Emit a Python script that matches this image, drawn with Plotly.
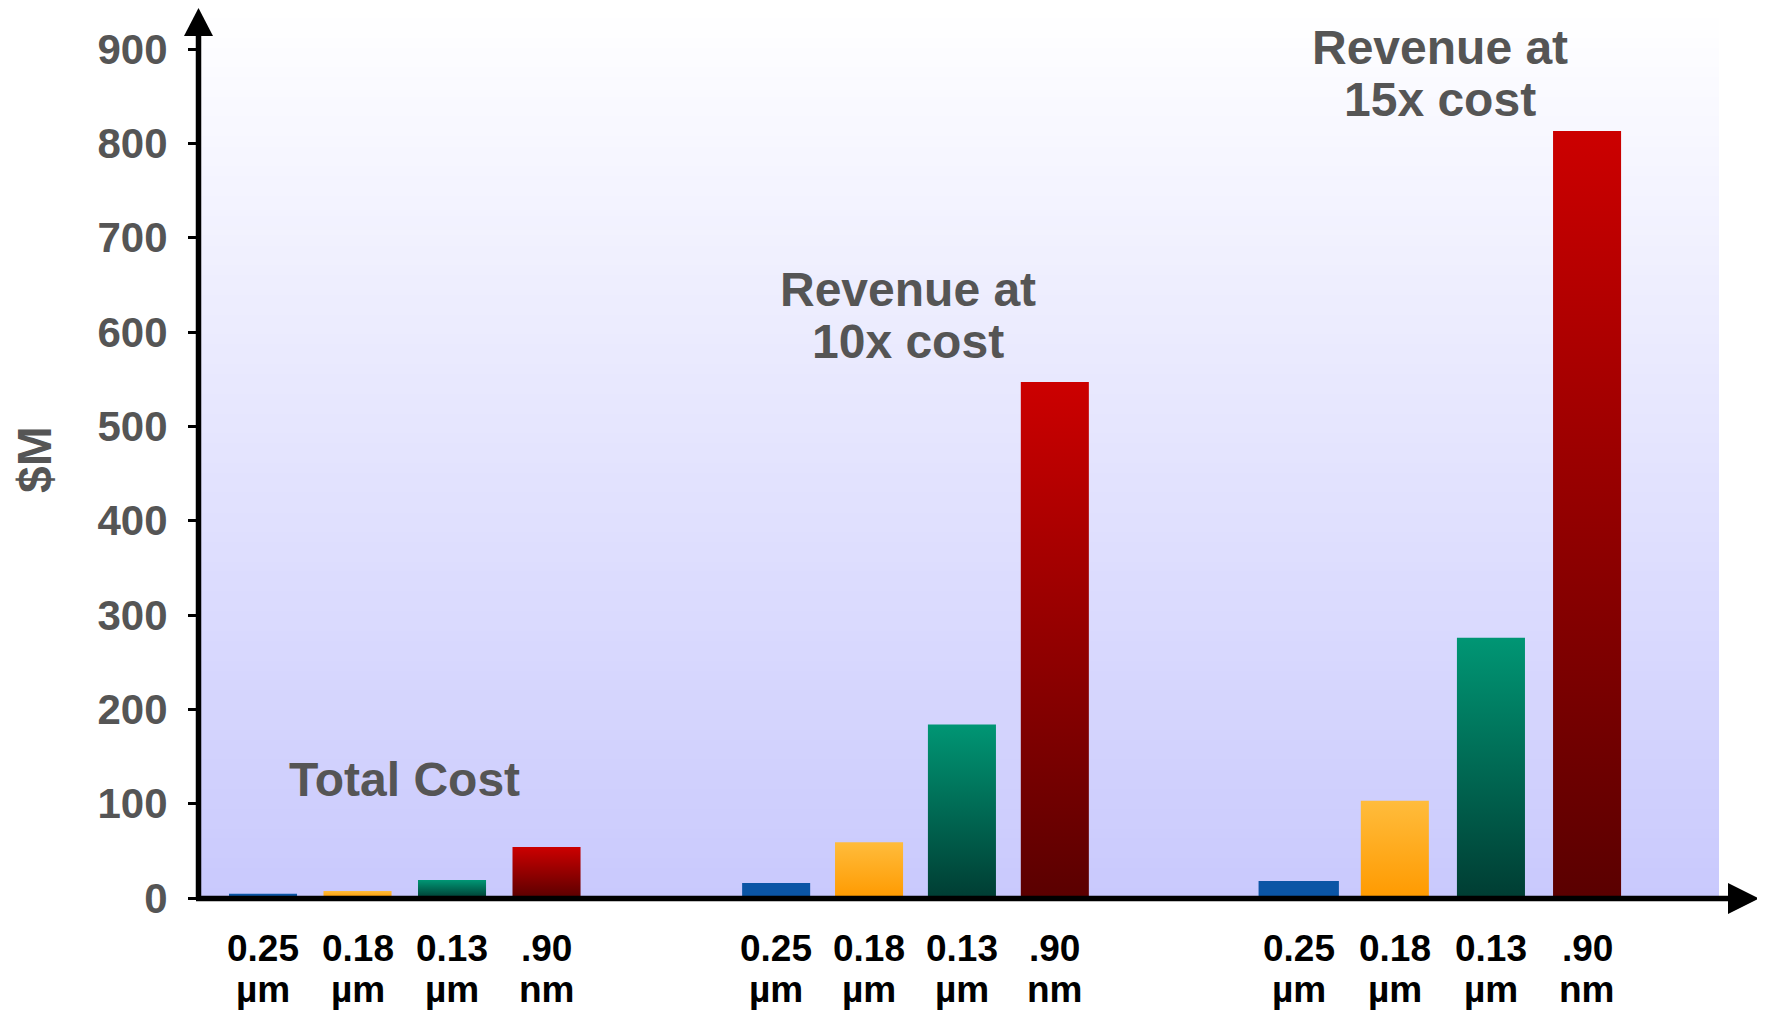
import plotly.graph_objects as go

# ---------------- data ----------------
tick_line1 = ["0.25", "0.18", "0.13", ".90"]
tick_line2 = ["µm", "µm", "µm", "nm"]
group_title_lines = [["Total Cost"], ["Revenue at", "10x cost"], ["Revenue at", "15x cost"]]
total_cost = [4.5, 7.5, 19, 54]
revenue_10x = [16, 59, 184, 547]
revenue_15x = [18, 103, 276, 813]
y_tick_values = [0, 100, 200, 300, 400, 500, 600, 700, 800, 900]
y_title = "$M"

series_groups = [total_cost, revenue_10x, revenue_15x]

# ---------------- layout constants ----------------
OFF = 8                                      # browser body margin
W, H = 1765 - OFF, 1012 - OFF
# plot area in screen pixels (screen = figure + OFF)
S_L, S_R, S_T, S_B = 198, 1719, 8, 898
PX_PER_UNIT = 0.9433
SLOT = 94.5                                  # px per x unit
X0 = -0.688
X1 = X0 + (S_R - S_L) / SLOT
YMAX = (S_B - S_T) / PX_PER_UNIT
group_start = [0.0, 5.43, 10.96]
group_pitch = [1.0, 0.983, 1.017]
bar_width = [[0.72] * 4, [0.72] * 4, [0.85, 0.72, 0.72, 0.72]]
title_dx = [0.0, -0.075, -0.03]
title_y = [126, 645, 902]
title_step = 55

# bottom / top colors per size
bar_colors = [("#0b55a5", "#0b55a5"), ("#ff9a00", "#ffbc3c"),
              ("#003d33", "#009674"), ("#5a0000", "#cc0000")]
GRAY = "#555555"
FONT = "Liberation Sans, Arial, sans-serif"


def fx(px):
    return (px - S_L) / (S_R - S_L)


def fy(py):
    return (S_B - py) / (S_B - S_T)


fig = go.Figure()

# bars as filled polygons with vertical gradient
for g, vals in enumerate(series_groups):
    for j, v in enumerate(vals):
        xc = group_start[g] + j * group_pitch[g]
        hw = bar_width[g][j] / 2
        bot, top = bar_colors[j]
        fig.add_trace(go.Scatter(
            x=[xc - hw, xc + hw, xc + hw, xc - hw, xc - hw],
            y=[0, 0, v, v, 0],
            mode="lines", line=dict(width=0),
            fill="toself",
            fillgradient=dict(type="vertical", start=0, stop=v,
                              colorscale=[[0, bot], [1, top]]),
            hoverinfo="skip", showlegend=False,
        ))

shapes = []
# background gradient (white at top -> lavender at bottom)
N = 90
c_top = (255, 255, 255)
c_bot = (201, 201, 253)
for i in range(N):
    t = (i + 0.5) / N
    col = tuple(round(c_bot[k] + (c_top[k] - c_bot[k]) * t) for k in range(3))
    shapes.append(dict(type="rect", xref="paper", yref="paper",
                       x0=0, x1=1, y0=i / N, y1=(i + 1) / N + 0.002,
                       fillcolor="rgb(%d,%d,%d)" % col, line=dict(width=0),
                       layer="below"))

# axis lines and arrows
shapes.append(dict(type="line", xref="paper", yref="paper",
                   x0=fx(198.5), x1=fx(198.5), y0=fy(900), y1=fy(34),
                   line=dict(color="black", width=5.5), layer="above"))
shapes.append(dict(type="line", xref="paper", yref="paper",
                   x0=fx(196), x1=fx(1729), y0=fy(898.5), y1=fy(898.5),
                   line=dict(color="black", width=5.5), layer="above"))
shapes.append(dict(type="path", xref="paper", yref="paper",
                   path="M %f %f L %f %f L %f %f Z" % (fx(184), fy(36), fx(213), fy(36), fx(198.5), fy(8)),
                   fillcolor="black", line=dict(width=0), layer="above"))
shapes.append(dict(type="path", xref="paper", yref="paper",
                   path="M %f %f L %f %f L %f %f Z" % (fx(1728), fy(883), fx(1728), fy(914), fx(1759), fy(898.5)),
                   fillcolor="black", line=dict(width=0), layer="above"))

annotations = []
# category labels (two lines each)
for g in range(3):
    for j in range(4):
        xc = group_start[g] + j * group_pitch[g]
        for text, py in ((tick_line1[j], 948.5), (tick_line2[j], 989)):
            annotations.append(dict(x=xc, y=fy(py), xref="x", yref="paper",
                                    text=text, showarrow=False,
                                    xanchor="center", yanchor="middle",
                                    font=dict(family=FONT, size=37, color="black", weight="bold")))

# group titles
for g, lines in enumerate(group_title_lines):
    xc = group_start[g] + 1.5 * group_pitch[g] + title_dx[g]
    for k, line in enumerate(lines):
        annotations.append(dict(x=xc, y=title_y[g] - k * title_step, xref="x", yref="y",
                                text=line, showarrow=False,
                                xanchor="center", yanchor="middle",
                                font=dict(family=FONT, size=48, color=GRAY, weight="bold")))

# y axis title
annotations.append(dict(x=fx(34), y=fy(460), xref="paper", yref="paper",
                        text=y_title, textangle=-90, showarrow=False,
                        xanchor="center", yanchor="middle",
                        font=dict(family=FONT, size=48, color=GRAY, weight="bold")))

fig.update_layout(
    width=W, height=H,
    margin=dict(l=S_L - OFF, r=W - (S_R - OFF), t=S_T - OFF, b=H - (S_B - OFF), pad=0),
    paper_bgcolor="white", plot_bgcolor="rgba(0,0,0,0)",
    showlegend=False,
    shapes=shapes, annotations=annotations,
    xaxis=dict(range=[X0, X1], showgrid=False, zeroline=False, showline=False,
               showticklabels=False, ticks=""),
    yaxis=dict(range=[0, YMAX], showgrid=False, zeroline=False, showline=False,
               tickmode="array", tickvals=y_tick_values,
               ticks="outside", ticklen=9, tickwidth=3, tickcolor="black",
               ticklabelstandoff=12,
               tickfont=dict(family=FONT, size=42, color=GRAY, weight="bold")),
)

fig.write_html("out.html")
